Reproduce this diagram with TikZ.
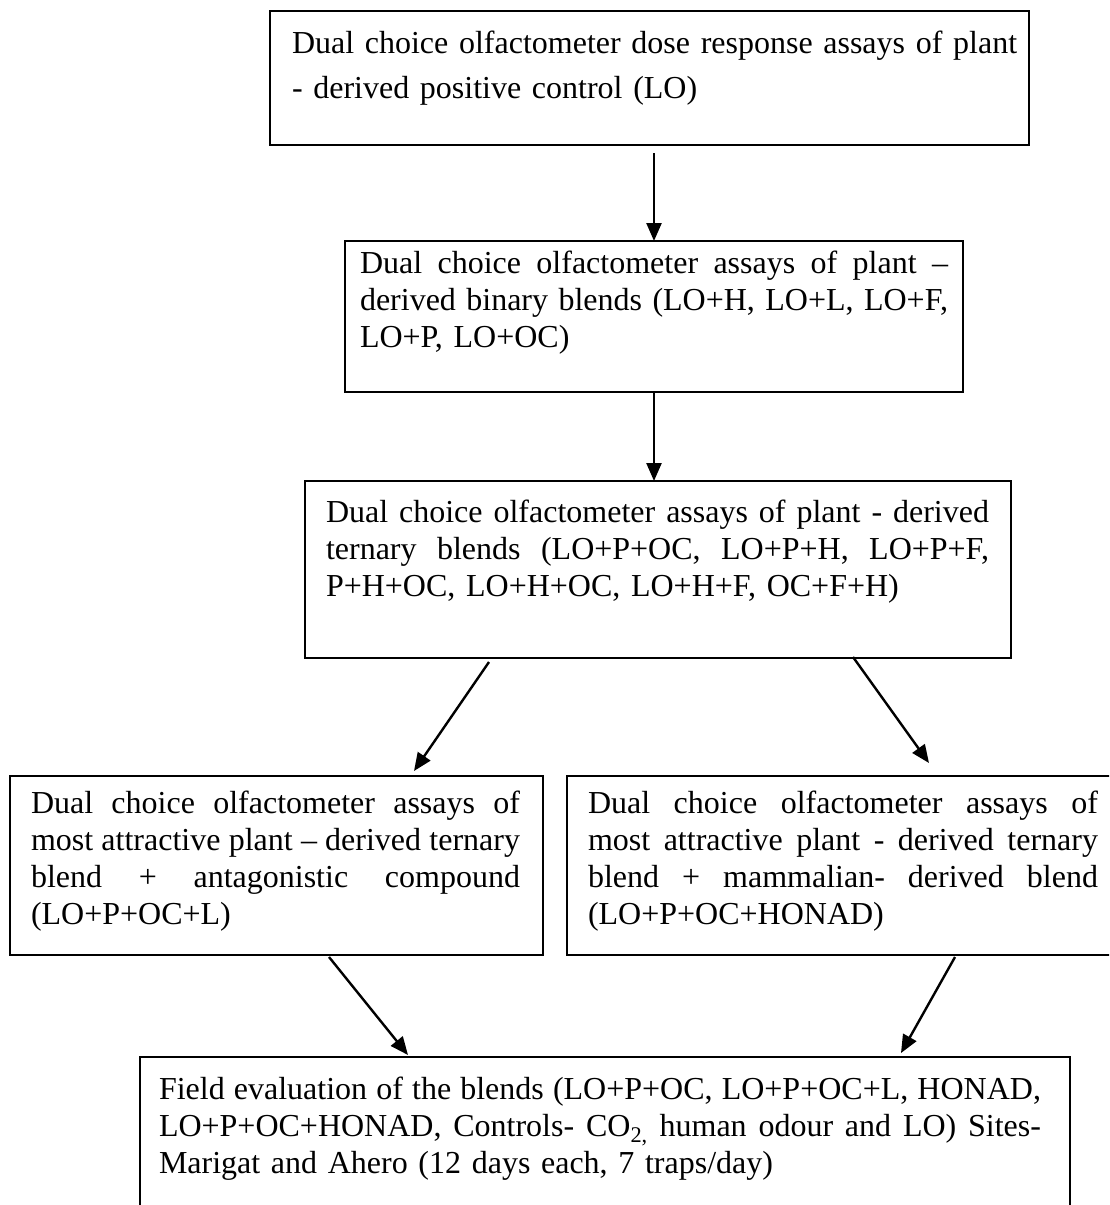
\documentclass[tikz,border=0pt]{standalone}
\usepackage{fontspec}
\setmainfont{Liberation Serif}
\usetikzlibrary{arrows.meta,calc}
\newcommand{\jline}[1]{\leavevmode\hbox to \hsize{\frenchspacing\spaceskip=0.25em plus 1fil\relax\xspaceskip=\spaceskip #1}}
\begin{document}
\begin{tikzpicture}[x=1pt,y=-1pt,
  box/.style={draw, line width=2.4pt, inner sep=0pt, outer sep=0pt, anchor=north west},
  txt/.style={inner sep=0pt, outer sep=0pt, anchor=north west, align=left, font=\fontsize{32}{37.3}\selectfont},
  arr/.style={line width=2.4pt, -{Triangle[length=18pt,width=15pt]}}]
\fill[white] (0,0) rectangle (1109,1205);
\useasboundingbox (0,0) rectangle (1109,1205);
\clip (0,0) rectangle (1109,1205);

% boxes
\node[box, minimum width=759pt, minimum height=134pt] (b1) at (270,11) {};
\node[box, minimum width=618pt, minimum height=151pt] (b2) at (345,241) {};
\node[box, minimum width=706pt, minimum height=177pt] (b3) at (305,481) {};
\node[box, minimum width=533pt, minimum height=179pt] (b4) at (10,776) {};
\node[box, minimum width=553pt, minimum height=179pt] (b5) at (567,776) {};
\node[box, minimum width=930pt, minimum height=200pt] (b6) at (140,1057) {};

% texts
\node[txt, font=\fontsize{32}{45}\selectfont, text width=740pt] (t1) at (292,21.5)
  {\strut Dual choice olfactometer dose response assays of plant\\- derived positive control (LO)};
\node[txt, text width=588pt] (t2) at (360,246.9)
  {\strut\jline{Dual choice olfactometer assays of plant –}\\
   \jline{derived binary blends (LO+H, LO+L, LO+F,}\\
   LO+P, LO+OC)};
\node[txt, text width=663pt] (t3) at (326,495.9)
  {\strut\jline{Dual choice olfactometer assays of plant - derived}\\
   \jline{ternary blends (LO+P+OC, LO+P+H, LO+P+F,}\\
   P+H+OC, LO+H+OC, LO+H+F, OC+F+H)};
\node[txt, text width=489pt] (t4) at (31,786.9)
  {\strut\jline{Dual choice olfactometer assays of}\\
   \jline{most attractive plant – derived ternary}\\
   \jline{blend + antagonistic compound}\\
   (LO+P+OC+L)};
\node[txt, text width=510pt] (t5) at (588,786.9)
  {\strut\jline{Dual choice olfactometer assays of}\\
   \jline{most attractive plant - derived ternary}\\
   \jline{blend + mammalian- derived blend}\\
   (LO+P+OC+HONAD)};
\node[txt, text width=882pt] (t6) at (159,1072.9)
  {\strut\jline{Field evaluation of the blends (LO+P+OC, LO+P+OC+L, HONAD,}\\
   \jline{LO+P+OC+HONAD, Controls- CO\textsubscript{2,} human odour and LO) Sites-}\\
   Marigat and Ahero (12 days each, 7 traps/day)};

% connectors
\draw[arr] ([yshift=-8pt]b1.south -| b2.north) -- (b2.north);
\draw[arr] (b2.south) -- (b2.south |- b3.north);
\draw[arr] ($(b3.south west)+(184,4)$) -- ($(b4.north west)+(404,-5)$);
\draw[arr] ($(b3.south west)+(548,-1)$) -- ($(b5.north west)+(362,-13)$);
\draw[arr] ($(b4.south west)+(319,2)$) -- ($(b6.north west)+(268,-2)$);
\draw[arr] ($(b5.south west)+(388,2)$) -- ($(b6.north west)+(761,-4)$);
\end{tikzpicture}
\end{document}
